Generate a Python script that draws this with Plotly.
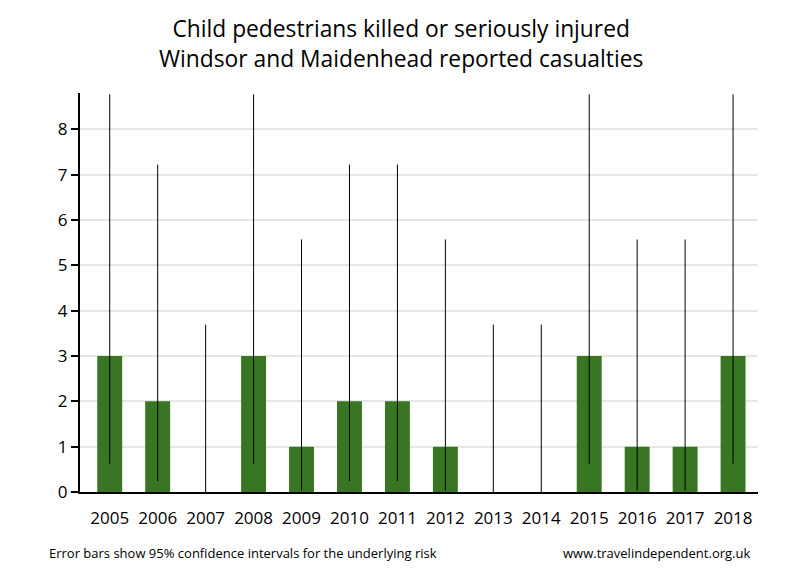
import plotly.graph_objects as go

years = ["2005", "2006", "2007", "2008", "2009", "2010", "2011",
         "2012", "2013", "2014", "2015", "2016", "2017", "2018"]
casualties = [3, 2, 0, 3, 1, 2, 2, 1, 0, 0, 3, 1, 1, 3]
ci_upper = [8.77, 7.22, 3.69, 8.77, 5.57, 7.22, 7.22,
            5.57, 3.69, 3.69, 8.77, 5.57, 5.57, 8.77]
ci_lower = [0.62, 0.24, 0.0, 0.62, 0.03, 0.24, 0.24,
            0.03, 0.0, 0.0, 0.62, 0.03, 0.03, 0.62]

err_plus = [u - c for u, c in zip(ci_upper, casualties)]
err_minus = [c - l for c, l in zip(casualties, ci_lower)]

font = "Open Sans, Noto Sans, sans-serif"

fig = go.Figure(go.Bar(
    x=years,
    y=casualties,
    width=0.52,
    marker=dict(color="#387623", line_width=0),
    error_y=dict(
        type="data", symmetric=False,
        array=err_plus, arrayminus=err_minus,
        color="black", thickness=1, width=0,
    ),
    hoverinfo="x+y",
))

# page has an 8px body margin, so the figure is a bit smaller than the window
fig.update_layout(
    width=792, height=572,
    paper_bgcolor="white", plot_bgcolor="white",
    margin=dict(l=72, r=42, t=85, b=88),
    showlegend=False,
    font=dict(family=font, color="black"),
    xaxis=dict(
        type="category",
        range=[-0.62, 13.52],
        showline=True, linecolor="black", linewidth=2,
        ticks="", showgrid=False,
        tickfont=dict(size=17),
        ticklabelstandoff=10,
    ),
    yaxis=dict(
        range=[0, 8.8],
        dtick=1,
        showline=True, linecolor="black", linewidth=2,
        ticks="outside", ticklen=7, tickwidth=2, tickcolor="black",
        showgrid=True, gridcolor="#e6e6e6", gridwidth=2,
        zeroline=False,
        tickfont=dict(size=17),
    ),
)

# title as an annotation so both lines sit where they should
fig.add_annotation(
    text="Child pedestrians killed or seriously injured<br>Windsor and Maidenhead reported casualties",
    xref="paper", yref="paper", x=0.473, y=1.123,
    xanchor="center", yanchor="middle", showarrow=False,
    font=dict(size=22.8, family=font), align="center",
)
fig.add_annotation(
    text="Error bars show 95% confidence intervals for the underlying risk",
    xref="paper", yref="paper", x=-0.049, y=-0.153,
    xanchor="left", yanchor="middle", showarrow=False,
    font=dict(size=13, family=font),
)
fig.add_annotation(
    text="www.travelindependent.org.uk",
    xref="paper", yref="paper", x=0.991, y=-0.153,
    xanchor="right", yanchor="middle", showarrow=False,
    font=dict(size=13, family=font),
)

fig.write_html("out.html")
